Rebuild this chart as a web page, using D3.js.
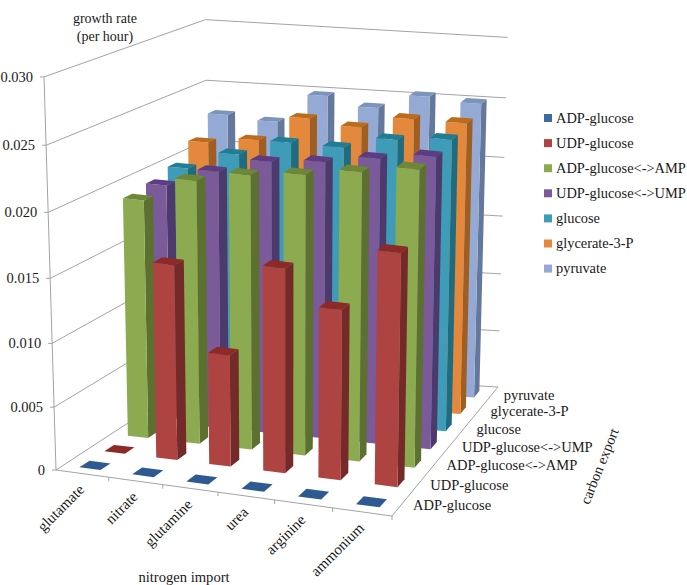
<!DOCTYPE html>
<html><head><meta charset="utf-8">
<script src="https://cdn.jsdelivr.net/npm/d3@7"></script>
<style>html,body{margin:0;background:#fff}svg{display:block}text{font-family:"Liberation Serif",serif;fill:#1a1a1a}</style>
</head><body><svg id="c" width="687" height="585"></svg>
<script>
const nitrogen=["glutamate","nitrate","glutamine","urea","arginine","ammonium"];
const carbon=["ADP-glucose","UDP-glucose","ADP-glucose<->AMP","UDP-glucose<->UMP","glucose","glycerate-3-P","pyruvate"];
const adpGlucose=[0,0,0,0,0,0];
const udpGlucose=[0,0.0156,0.0090,0.0164,0.0137,0.0187];
const adpAmp=[0.0192,0.0212,0.0221,0.0226,0.0233,0.0240];
const udpUmp=[0.0195,0.0210,0.0222,0.0226,0.0233,0.0239];
const glucose=[0.0200,0.0215,0.0228,0.0228,0.0238,0.0242];
const glycerate=[0.0213,0.0218,0.0239,0.0235,0.0245,0.0245];
const pyruvate=[0.0228,0.0225,0.0249,0.0242,0.0254,0.0251];
const seriesValues=[adpGlucose,udpGlucose,adpAmp,udpUmp,glucose,glycerate,pyruvate];
const yTicks=[0,0.005,0.01,0.015,0.02,0.025,0.03];
const faceFront=["#3b6ba5","#ae4441","#8cab50","#7a5a99","#3f9cb8","#e4893c","#94aad4"];
const faceSide=["#274a75","#742a28","#5c7030","#4c3a6c","#1f6c80","#a05e20","#64789c"];
const faceTop=["#2f5a91","#8c2a28","#6e8638","#5e3c82","#207e94","#bc6c1c","#7c94bc"];

// perspective frame
const FL=[56,470],FR=[392,516],BR=[498,387],BL=[209,370],VP=[287,8050];
const K=-0.0493, WS=0.13;
const warp=(t,r)=>t/(t+r*(1-t));
const lerp=(a,b,t)=>a+(b-a)*t;
const yS=d3.scaleLinear().domain([0,0.03]).range([0,1]);
const uBand=d3.scaleBand().domain(nitrogen).range([0,1]).paddingInner(0.6).paddingOuter(0.3);
const sBand=d3.scaleBand().domain(carbon).range([0,1]).paddingInner(0.6).paddingOuter(0.3);
function P(u,s,v){
 const uf=warp(u,1.074),ub=warp(u,1.02);
 const x=lerp(lerp(FL[0],FR[0],uf),lerp(BL[0],BR[0],ub),warp(s,0.83));
 const y=lerp(lerp(FL[1],FR[1],uf),lerp(BL[1],BR[1],ub),warp(s,0.873));
 const q=K*yS(v)/(1+WS*s),t=q/(1+q);
 return [x+(VP[0]-x)*t,y+(VP[1]-y)*t];
}
const svg=d3.select("#c");
const lineC="#a3a3a3";
const seg=(a,b,cw=1)=>svg.append("line").attr("x1",a[0]).attr("y1",a[1]).attr("x2",b[0]).attr("y2",b[1]).attr("stroke",lineC).attr("stroke-width",cw);
// walls' gridlines
yTicks.forEach(v=>{seg(P(0,0,v),P(0,1,v));seg(P(0,1,v),P(1,1,v));
 const p=P(0,0,v);seg([p[0]-4,p[1]],p);
 svg.append("text").attr("x",p[0]-11).attr("y",p[1]+5).attr("text-anchor","end").attr("font-size",14.5)
  .text(v===0?"0":d3.format(".3f")(v));
});
seg(P(0,0,0),P(0,0,0.03));
seg(FL,FR);seg(FR,BR);
d3.range(1,7).forEach(i=>{const p=P(i/6,0,0);seg(p,[p[0],p[1]+4]);});
// bars, back to front, left to right
const bars=[];
carbon.forEach((c,si)=>nitrogen.forEach((n,ni)=>bars.push({si,ni,c,n,v:seriesValues[si][ni]})));
bars.sort((a,b)=>d3.descending(a.si,b.si)||d3.ascending(a.ni,b.ni));
const poly=pts=>pts.map(p=>p.join(",")).join(" ");
const g=svg.selectAll("g.bar").data(bars).join("g").attr("class","bar");
g.each(function(d){
 const u0=uBand(d.n),u1=u0+uBand.bandwidth(),s0=sBand(d.c),s1=s0+sBand.bandwidth();
 const el=d3.select(this);
 const top=[P(u0,s0,d.v),P(u1,s0,d.v),P(u1,s1,d.v),P(u0,s1,d.v)];
 if(d.v>0){
  el.append("polygon").attr("points",poly([P(u1,s0,0),P(u1,s1,0),top[2],top[1]])).attr("fill",faceSide[d.si]);
  el.append("polygon").attr("points",poly([P(u0,s0,0),P(u1,s0,0),top[1],top[0]])).attr("fill",faceFront[d.si]);
 }
 el.append("polygon").attr("points",poly(top)).attr("fill",faceTop[d.si]);
});
// axis labels
nitrogen.forEach((n,i)=>{
 const p=P(uBand(n)+uBand.bandwidth()/2,0,0);
 svg.append("text").attr("transform",`translate(${p[0]+3},${p[1]+17}) rotate(-45)`)
  .attr("text-anchor","end").attr("font-size",15).text(n);
});
carbon.forEach((c,i)=>{
 const p=P(1,sBand(c)+sBand.bandwidth()/2,0);
 svg.append("text").attr("x",p[0]+12).attr("y",p[1]+4.5).attr("font-size",14.5).text(c);
});
const title=(x,y,t,r,fs=14)=>svg.append("text").attr("transform",`translate(${x},${y})`+(r?` rotate(${r})`:"")).attr("text-anchor","middle").attr("font-size",fs).text(t);
title(105,23,"growth rate");title(105,41,"(per hour)");
title(184,582,"nitrogen import",0,14.6);
title(604,468,"carbon export",-68,14.5);
// legend
carbon.forEach((c,i)=>{
 const y=118+i*25.1;
 svg.append("rect").attr("x",544).attr("y",y-4).attr("width",8).attr("height",8).attr("fill",faceFront[i]);
 svg.append("text").attr("x",556).attr("y",y+4.5).attr("font-size",14.4).text(c);
});
</script></body></html>
